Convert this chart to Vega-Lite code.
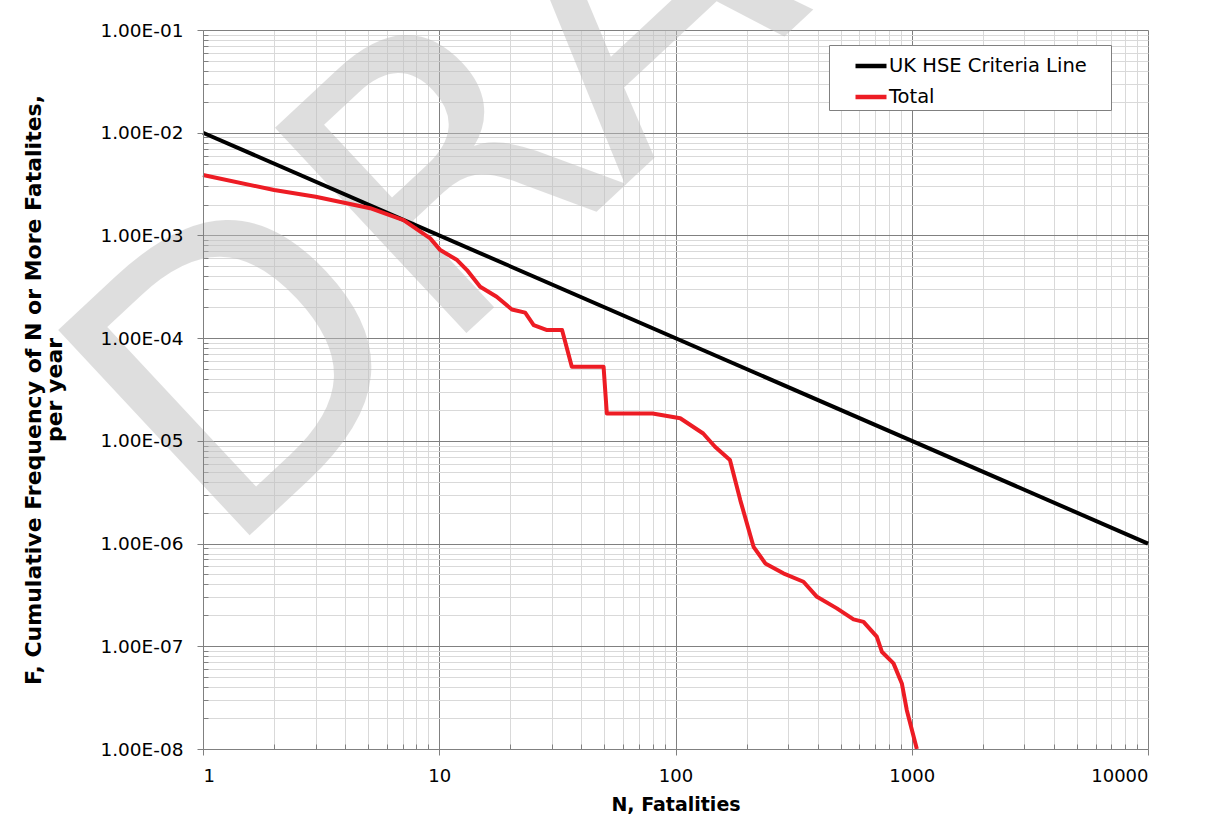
{
  "$schema": "https://vega.github.io/schema/vega-lite/v6.json",
  "width": 945,
  "height": 719,
  "autosize": {"type": "none"},
  "padding": {"left": 203, "top": 30, "right": 61, "bottom": 68},
  "background": "white",
  "config": {"view": {"stroke": null}, "font": "DejaVu Sans"},
  "datasets": {
    "watermark": [{"label": "DRAFT", "N": 1.203, "F": 6.76e-7}],
    "hse": [
      {"series": "UK HSE Criteria Line", "N": 1, "F": 0.01},
      {"series": "UK HSE Criteria Line", "N": 10000, "F": 1e-6}
    ],
    "total": [
      {"series": "Total", "N": 1, "F": 3.87e-3},
      {"series": "Total", "N": 2, "F": 2.77e-3},
      {"series": "Total", "N": 3, "F": 2.38e-3},
      {"series": "Total", "N": 5.1, "F": 1.84e-3},
      {"series": "Total", "N": 7.06, "F": 1.41e-3},
      {"series": "Total", "N": 9.16, "F": 9.37e-4},
      {"series": "Total", "N": 10.1, "F": 7.2e-4},
      {"series": "Total", "N": 11.9, "F": 5.76e-4},
      {"series": "Total", "N": 13.1, "F": 4.6e-4},
      {"series": "Total", "N": 14.9, "F": 3.16e-4},
      {"series": "Total", "N": 17.5, "F": 2.53e-4},
      {"series": "Total", "N": 20.3, "F": 1.9e-4},
      {"series": "Total", "N": 23.1, "F": 1.77e-4},
      {"series": "Total", "N": 25.1, "F": 1.34e-4},
      {"series": "Total", "N": 28.6, "F": 1.2e-4},
      {"series": "Total", "N": 33.1, "F": 1.2e-4},
      {"series": "Total", "N": 36.4, "F": 5.27e-5},
      {"series": "Total", "N": 49.6, "F": 5.27e-5},
      {"series": "Total", "N": 51.2, "F": 1.85e-5},
      {"series": "Total", "N": 80, "F": 1.85e-5},
      {"series": "Total", "N": 104.7, "F": 1.66e-5},
      {"series": "Total", "N": 131, "F": 1.18e-5},
      {"series": "Total", "N": 147, "F": 8.77e-6},
      {"series": "Total", "N": 170, "F": 6.5e-6},
      {"series": "Total", "N": 188, "F": 2.65e-6},
      {"series": "Total", "N": 214, "F": 9.3e-7},
      {"series": "Total", "N": 240, "F": 6.41e-7},
      {"series": "Total", "N": 286, "F": 5.13e-7},
      {"series": "Total", "N": 348, "F": 4.25e-7},
      {"series": "Total", "N": 397, "F": 3.03e-7},
      {"series": "Total", "N": 482, "F": 2.34e-7},
      {"series": "Total", "N": 567, "F": 1.83e-7},
      {"series": "Total", "N": 625, "F": 1.73e-7},
      {"series": "Total", "N": 711, "F": 1.24e-7},
      {"series": "Total", "N": 747, "F": 8.85e-8},
      {"series": "Total", "N": 837, "F": 6.82e-8},
      {"series": "Total", "N": 908, "F": 4.35e-8},
      {"series": "Total", "N": 953, "F": 2.39e-8},
      {"series": "Total", "N": 1051, "F": 1.0e-8}
    ]
  },
  "layer": [
    {
      "data": {"name": "watermark"},
      "mark": {"type": "text", "angle": -43, "fontSize": 385, "font": "DejaVu Sans", "align": "left", "baseline": "alphabetic", "fill": "#bfbfbf", "opacity": 0.5},
      "encoding": {
        "x": {
          "field": "N", "type": "quantitative",
          "scale": {"type": "log", "domain": [1, 10000], "nice": false},
          "axis": {"orient": "bottom", "title": null, "labels": false, "domain": false, "grid": true, "gridColor": "#d9d9d9", "gridWidth": 1, "ticks": true, "tickSize": -5, "tickColor": "#808080",
            "values": [2,3,4,5,6,7,8,9,20,30,40,50,60,70,80,90,200,300,400,500,600,700,800,900,2000,3000,4000,5000,6000,7000,8000,9000]}
        },
        "y": {
          "field": "F", "type": "quantitative",
          "scale": {"type": "log", "domain": [1e-8, 0.1], "nice": false},
          "axis": {"orient": "left", "title": null, "labels": false, "domain": false, "grid": true, "gridColor": "#d9d9d9", "gridWidth": 1, "ticks": true, "tickSize": -5, "tickColor": "#808080",
            "values": [2e-8,3e-8,4e-8,5e-8,6e-8,7e-8,8e-8,9e-8,2e-7,3e-7,4e-7,5e-7,6e-7,7e-7,8e-7,9e-7,2e-6,3e-6,4e-6,5e-6,6e-6,7e-6,8e-6,9e-6,2e-5,3e-5,4e-5,5e-5,6e-5,7e-5,8e-5,9e-5,2e-4,3e-4,4e-4,5e-4,6e-4,7e-4,8e-4,9e-4,2e-3,3e-3,4e-3,5e-3,6e-3,7e-3,8e-3,9e-3,0.02,0.03,0.04,0.05,0.06,0.07,0.08,0.09]}
        },
        "text": {"field": "label", "type": "nominal"}
      }
    },
    {
      "data": {"name": "hse"},
      "mark": {"type": "line", "strokeWidth": 4, "strokeJoin": "round"},
      "encoding": {
        "x": {
          "field": "N", "type": "quantitative",
          "scale": {"type": "log", "domain": [1, 10000], "nice": false},
          "axis": {"orient": "bottom", "title": null, "labels": false, "domain": false, "ticks": false, "grid": true, "gridColor": "#808080", "gridWidth": 1, "values": [1, 10, 100, 1000, 10000]}
        },
        "y": {
          "field": "F", "type": "quantitative",
          "scale": {"type": "log", "domain": [1e-8, 0.1], "nice": false},
          "axis": {"orient": "left", "title": null, "labels": false, "domain": false, "ticks": false, "grid": true, "gridColor": "#808080", "gridWidth": 1, "values": [1e-8, 1e-7, 1e-6, 1e-5, 1e-4, 1e-3, 1e-2, 0.1]}
        },
        "color": {
          "field": "series", "type": "nominal",
          "scale": {"domain": ["UK HSE Criteria Line", "Total"], "range": ["#000000", "#ed1c24"]},
          "legend": {"orient": "none", "legendX": 626, "legendY": 15, "title": "\u00a0", "titleOrient": "right", "titlePadding": 21, "titleFontSize": 10,
            "symbolType": "stroke", "symbolSize": 961, "symbolStrokeWidth": 4.5, "symbolOffset": 21,
            "labelFontSize": 19.5, "labelFont": "DejaVu Sans", "labelColor": "#000000", "labelOffset": 0, "labelLimit": 400,
            "rowPadding": 3, "padding": 3, "strokeColor": "#808080", "fillColor": "#ffffff"}
        }
      }
    },
    {
      "data": {"name": "total"},
      "mark": {"type": "line", "strokeWidth": 4, "strokeJoin": "round"},
      "encoding": {
        "x": {
          "field": "N", "type": "quantitative",
          "scale": {"type": "log", "domain": [1, 10000], "nice": false},
          "axis": {"orient": "bottom", "zindex": 1, "title": "N, Fatalities", "titleFontSize": 19, "titleFontWeight": "bold", "titleColor": "#000000", "titleFont": "DejaVu Sans", "titlePadding": 10,
            "grid": false, "domain": true, "domainColor": "#808080", "ticks": true, "tickSize": 6, "tickColor": "#808080",
            "labels": true, "labelFontSize": 18, "labelFont": "DejaVu Sans", "labelColor": "#000000", "labelPadding": 12, "format": "d",
            "values": [1, 10, 100, 1000, 10000]}
        },
        "y": {
          "field": "F", "type": "quantitative",
          "scale": {"type": "log", "domain": [1e-8, 0.1], "nice": false},
          "axis": {"orient": "left", "zindex": 1, "title": ["F, Cumulative Frequency of N or More Fatalites,", "per year"], "titleFontSize": 22, "titleFontWeight": "bold", "titleColor": "#000000", "titleFont": "DejaVu Sans", "titlePadding": 33, "titleLineHeight": 21,
            "grid": false, "domain": true, "domainColor": "#808080", "ticks": true, "tickSize": 6, "tickColor": "#808080",
            "labels": true, "labelFontSize": 18.5, "labelFont": "DejaVu Sans", "labelColor": "#000000", "labelPadding": 14,
            "labelExpr": "'1.00E-0' + round(-log(datum.value)/LN10)",
            "values": [1e-8, 1e-7, 1e-6, 1e-5, 1e-4, 1e-3, 1e-2, 0.1]}
        },
        "color": {
          "field": "series", "type": "nominal",
          "scale": {"domain": ["UK HSE Criteria Line", "Total"], "range": ["#000000", "#ed1c24"]},
          "legend": {"orient": "none", "legendX": 626, "legendY": 15, "title": "\u00a0", "titleOrient": "right", "titlePadding": 21, "titleFontSize": 10,
            "symbolType": "stroke", "symbolSize": 961, "symbolStrokeWidth": 4.5, "symbolOffset": 21,
            "labelFontSize": 19.5, "labelFont": "DejaVu Sans", "labelColor": "#000000", "labelOffset": 0, "labelLimit": 400,
            "rowPadding": 3, "padding": 3, "strokeColor": "#808080", "fillColor": "#ffffff"}
        }
      }
    }
  ],
  "resolve": {"axis": {"x": "independent", "y": "independent"}}
}
